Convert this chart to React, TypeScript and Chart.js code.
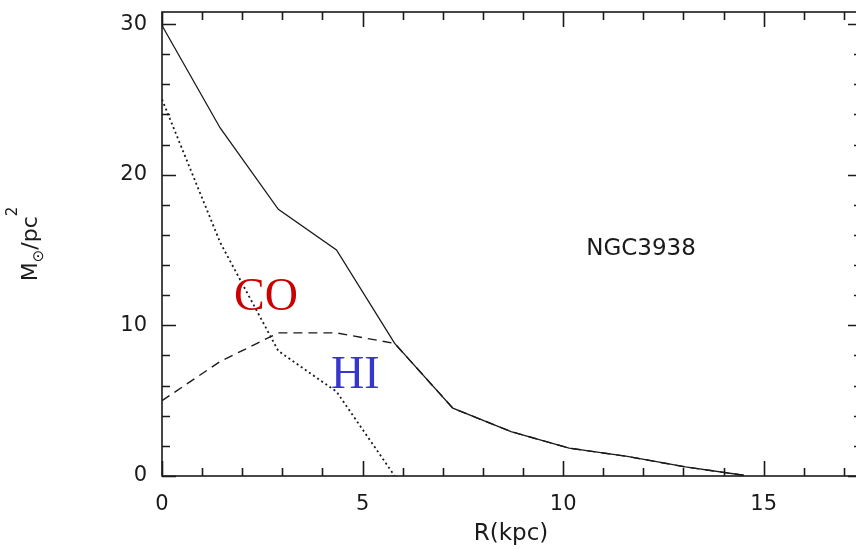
import React, { useEffect, useRef } from "react";
import { Chart, registerables } from "chart.js";

Chart.register(...registerables);

// Radial sampling of the NGC3938 gas surface-density profiles (kpc)
const R_KPC = [0, 1.45, 2.9, 4.35, 5.8, 7.25, 8.7, 10.15, 11.6, 13.05, 14.5];
// Total gas (solid)
const TOTAL = [29.9, 23.1, 17.7, 15.0, 8.8, 4.5, 2.95, 1.85, 1.3, 0.6, 0.05];
// Molecular gas from CO (dotted), ends where it reaches zero
const CO = [25.0, 15.5, 8.3, 5.6, 0.0];
// Atomic gas HI (dashed); beyond the CO edge it coincides with the total
const HI = [5.0, 7.6, 9.5, 9.5, 8.8, 4.5, 2.95, 1.85, 1.3, 0.6, 0.05];

const X_TICKS = [0, 5, 10, 15];
const Y_TICKS = [0, 10, 20, 30];
const GALAXY = "NGC3938";

const INK = "#1a1a1a";
const AXIS_FONT = "'DejaVu Sans', sans-serif";

const pts = (xs: number[], ys: number[]) => ys.map((y, i) => ({ x: xs[i], y }));

// Framed box with inward-pointing ticks on all four sides, plus the text labels
const framePlugin = {
  id: "frame",
  afterDatasetsDraw(chart: any) {
    const { ctx, chartArea: a, scales } = chart;
    const xs = scales.x;
    const ys = scales.y;
    ctx.save();
    ctx.strokeStyle = INK;
    ctx.lineWidth = 1.6;
    ctx.strokeRect(a.left, a.top, a.right - a.left, a.bottom - a.top);

    ctx.beginPath();
    for (let v = 0; v <= Math.floor(xs.max); v += 1) {
      const px = Math.round(xs.getPixelForValue(v)) + 0.5;
      const len = v % 5 === 0 ? 15 : 8;
      ctx.moveTo(px, a.bottom);
      ctx.lineTo(px, a.bottom - len);
      ctx.moveTo(px, a.top);
      ctx.lineTo(px, a.top + len);
    }
    for (let v = 0; v <= Math.floor(ys.max); v += 2) {
      const py = Math.round(ys.getPixelForValue(v)) + 0.5;
      const len = v % 10 === 0 ? 14 : 8;
      ctx.moveTo(a.left, py);
      ctx.lineTo(a.left + len, py);
      ctx.moveTo(a.right, py);
      ctx.lineTo(a.right - len, py);
    }
    ctx.stroke();

    // x-axis title
    ctx.fillStyle = INK;
    ctx.textAlign = "center";
    ctx.textBaseline = "middle";
    ctx.font = `23px ${AXIS_FONT}`;
    ctx.fillText("R(kpc)", 511, 534);

    // galaxy name
    ctx.fillText(GALAXY, 641, 249);

    // y-axis title: M⊙/pc², rotated
    ctx.save();
    ctx.translate(37, (a.top + a.bottom) / 2);
    ctx.rotate(-Math.PI / 2);
    ctx.textAlign = "left";
    ctx.textBaseline = "alphabetic";
    const big = `22px ${AXIS_FONT}`;
    const small = `15px ${AXIS_FONT}`;
    const parts = [
      { t: "M", f: big, dy: 0 },
      { t: "⊙", f: small, dy: 6 },
      { t: "/pc", f: big, dy: 0 },
      { t: "2", f: small, dy: -20 },
    ];
    let total = 0;
    for (const p of parts) {
      ctx.font = p.f;
      total += ctx.measureText(p.t).width;
    }
    let x = -total / 2;
    for (const p of parts) {
      ctx.font = p.f;
      ctx.fillText(p.t, x, p.dy);
      x += ctx.measureText(p.t).width;
    }
    ctx.restore();

    // component labels
    ctx.textAlign = "left";
    ctx.textBaseline = "alphabetic";
    ctx.font = "46px 'Liberation Serif', serif";
    ctx.fillStyle = "#cc0000";
    ctx.fillText("CO", 234, 310);
    ctx.fillStyle = "#3636cc";
    ctx.fillText("HI", 331, 388);
    ctx.restore();
  },
};

export default function App() {
  const ref = useRef<HTMLCanvasElement | null>(null);

  useEffect(() => {
    if (!ref.current) return;
    const chart = new Chart(ref.current, {
      type: "scatter",
      data: {
        datasets: [
          {
            label: "total",
            data: pts(R_KPC, TOTAL),
            showLine: true,
            borderColor: INK,
            borderWidth: 1.3,
            pointRadius: 0,
          },
          {
            label: "CO",
            data: pts(R_KPC, CO),
            showLine: true,
            borderColor: INK,
            borderWidth: 1.8,
            borderDash: [2, 3],
            pointRadius: 0,
          },
          {
            label: "HI",
            data: pts(R_KPC, HI),
            showLine: true,
            borderColor: INK,
            borderWidth: 1.4,
            borderDash: [9, 6],
            pointRadius: 0,
          },
        ],
      },
      options: {
        responsive: false,
        animation: false,
        devicePixelRatio: 1,
        layout: { padding: { top: 12, right: 38, left: 0, bottom: 0 } },
        plugins: {
          legend: { display: false },
          tooltip: { enabled: false },
        },
        scales: {
          x: {
            type: "linear",
            min: 0,
            max: 17.45,
            grid: { display: false, drawTicks: false },
            border: { display: false },
            afterFit: (s: any) => {
              s.height = 73;
              s.paddingLeft = 0;
              s.paddingRight = 0;
            },
            afterBuildTicks: (s: any) => {
              s.ticks = X_TICKS.map((v) => ({ value: v }));
            },
            ticks: {
              padding: 16,
              color: INK,
              font: { family: AXIS_FONT, size: 21 },
              maxRotation: 0,
              autoSkip: false,
            },
          },
          y: {
            type: "linear",
            min: 0,
            max: 30.8,
            grid: { display: false, drawTicks: false },
            border: { display: false },
            afterFit: (s: any) => {
              s.width = 162;
              s.paddingTop = 0;
              s.paddingBottom = 0;
            },
            afterBuildTicks: (s: any) => {
              s.ticks = Y_TICKS.map((v) => ({ value: v }));
            },
            ticks: {
              padding: 15,
              color: INK,
              font: { family: AXIS_FONT, size: 21 },
              autoSkip: false,
            },
          },
        },
      },
      plugins: [framePlugin],
    });
    return () => chart.destroy();
  }, []);

  return (
    <div
      style={{
        position: "fixed",
        left: 0,
        top: 0,
        width: 856,
        height: 549,
        overflow: "hidden",
        background: "#fff",
      }}
    >
      <canvas ref={ref} width={900} height={549} style={{ display: "block" }} />
    </div>
  );
}
